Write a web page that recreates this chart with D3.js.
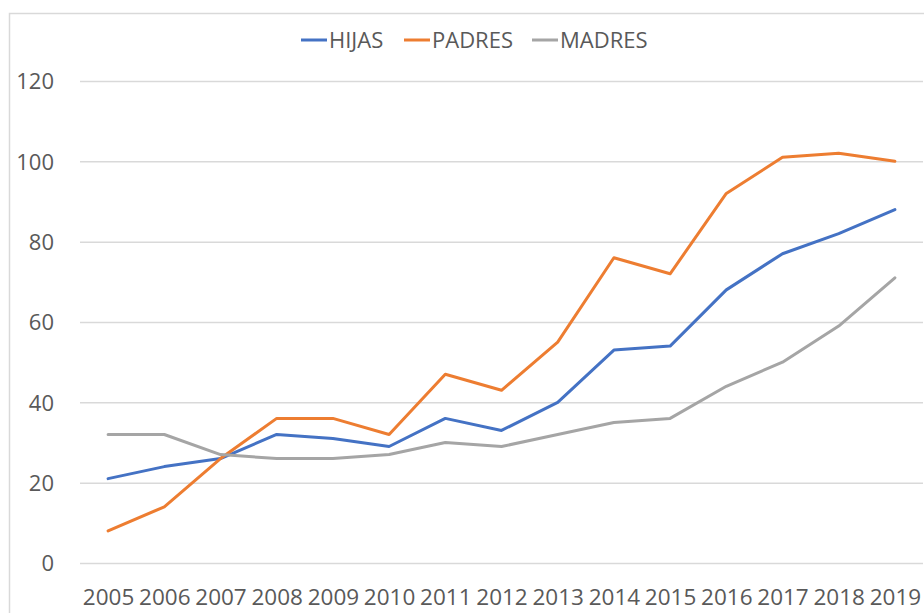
<!DOCTYPE html>
<html>
<head>
<meta charset="utf-8">
<script src="https://cdn.jsdelivr.net/npm/d3@7"></script>
<style>
    body { margin: 0; background: #ffffff; }
    text { font-family: "Open Sans", "Noto Sans", sans-serif; fill: #595959; }
</style>
</head>
<body>
<svg id="chart" width="924" height="613"></svg>
<script>

var years = ["2005", "2006", "2007", "2008", "2009", "2010", "2011", "2012", "2013", "2014", "2015", "2016", "2017", "2018", "2019"]

var hijas = [21, 24, 26, 32, 31, 29, 36, 33, 40, 53, 54, 68, 77, 82, 88]

var padres = [8, 14, 26, 36, 36, 32, 47, 43, 55, 76, 72, 92, 101, 102, 100]

var madres = [32, 32, 27, 26, 26, 27, 30, 29, 32, 35, 36, 44, 50, 59, 71]

var yTicks = [0, 20, 40, 60, 80, 100, 120]

var seriesNames = ["HIJAS", "PADRES", "MADRES"]

var colors = ["#4472C4", "#ED7D31", "#A5A5A5"]

var series = [hijas, padres, madres]

var svg = d3.select('#chart')

// chart frame, runs past the right and bottom edges like in the screenshot
svg.append("rect")
        .attr("x", 9.5)
        .attr("y", 13.5)
        .attr("width", 1000)
        .attr("height", 700)
        .attr("fill", "none")
        .attr("stroke", "#d9d9d9")
        .attr("stroke-width", 1.5)

var x = d3.scalePoint()
            .domain(years)
            .range([80, 923])
            .padding(0.5)

var y = d3.scaleLinear()
            .domain([0, 120])
            .range([563, 81])

var yAxis = svg.append("g")
                .attr("transform", "translate( 80 , 0 )")
                .call(d3.axisLeft(y).tickValues(yTicks).tickSize(-843).tickPadding(26))

yAxis.select(".domain").remove()

yAxis.selectAll(".tick line")
        .attr("stroke", "#d9d9d9")
        .attr("stroke-width", 1.5)

yAxis.selectAll(".tick text")
        .attr("font-size", "22px")
        .attr("dy", "0.36em")

var xAxis = svg.append("g")
                .attr("transform", "translate( 0 , 563 )")
                .call(d3.axisBottom(x).tickSize(0).tickPadding(0))

xAxis.select(".domain").remove()

xAxis.selectAll(".tick text")
        .attr("font-size", "22.5px")
        .attr("dy", null)
        .attr("y", 42)

var line = d3.line()
            .x(function(d, i) { return x(years[i]) })
            .y(function(d) { return y(d) })

svg.selectAll(".series")
        .data(series)
        .enter()
        .append("path")
        .attr("class", "series")
        .attr("d", line)
        .attr("fill", "none")
        .attr("stroke", function(d, i) { return colors[i] })
        .attr("stroke-width", 3)
        .attr("stroke-linejoin", "round")
        .attr("stroke-linecap", "round")

// legend
var legendX = [301, 404, 532]

var legend = svg.selectAll(".legend")
                .data(seriesNames)
                .enter()
                .append("g")
                .attr("class", "legend")
                .attr("transform", function(d, i) { return "translate( " + legendX[i] + " , 40 )" })

legend.append("line")
        .attr("x1", 0)
        .attr("x2", 26)
        .attr("y1", 0)
        .attr("y2", 0)
        .attr("stroke", function(d, i) { return colors[i] })
        .attr("stroke-width", 3)

legend.append("text")
        .attr("x", 28)
        .attr("y", 8)
        .attr("font-size", "22px")
        .text(function(d) { return d })

</script>
</body>
</html>
